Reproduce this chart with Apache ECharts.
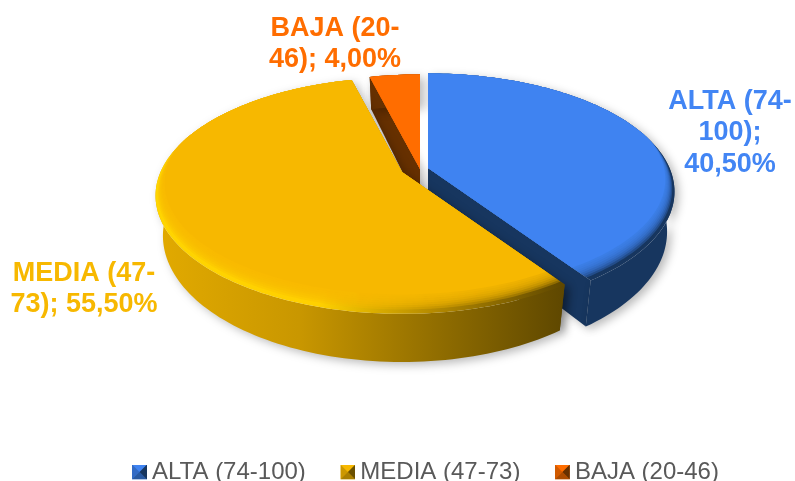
<!DOCTYPE html>
<html>
<head>
<meta charset="utf-8" />
<style>
  html, body { margin: 0; padding: 0; background: #fff; }
  #chart { width: 795px; height: 481px; }
</style>
</head>
<body>
<div id="chart"></div>
<script src="https://cdn.jsdelivr.net/npm/echarts@6/dist/echarts.min.js"></script>
<script>
const categories = ["ALTA (74-100)", "MEDIA (47-73)", "BAJA (20-46)"];
const percents = [40.5, 55.5, 4.0];
// donde el original corta cada etiqueta
const labelBreaks = [["ALTA (74-", "100);", "40,50%"], ["MEDIA (47-", "73); 55,50%"], ["BAJA (20-", "46); 4,00%"]];

const faceColors = ["#3f83f1", "#f7b800", "#ff6d00"];
const wallColors = ["#17365f", "#6b5000", "#663000"];
const labelColors = ["#4285f4", "#f7b800", "#ff6d00"];
const apexes = [[428, 168], [402, 172], [420, 169]];
const labelPos = [[730, 133], [84, 289], [335, 44]];
const drawOrder = [2, 3, 1];

const RX = 241.5;
const RY = 113.5;
const PERSP = 0.2; // la parte delantera se ve más grande
const DEPTH = 38.5;
const BOTTOM_SCALE = 0.97; // la base queda algo más estrecha

const sideGradient = (i) => {
  if (i === 1) {
    return new echarts.graphic.LinearGradient(0, 0, 1, 0, [
      { offset: 0, color: "#e2aa00" },
      { offset: 0.35, color: "#c99700" },
      { offset: 0.7, color: "#8f6c00" },
      { offset: 1, color: "#5e4700" },
    ]);
  }
  return wallColors[i];
};

const bevelGradient = (i) => {
  if (i === 1) {
    return new echarts.graphic.LinearGradient(0, 0, 1, 0, [
      { offset: 0, color: "#ffd500" },
      { offset: 0.4, color: "#ffd000" },
      { offset: 0.68, color: "#b58a00" },
      { offset: 1, color: "#5e4700" },
    ]);
  }
  return wallColors[i];
};

/** punto del disco en perspectiva, ang en radianes desde arriba y en sentido horario */
const project = (apex, ang, k, drop) => {
  const u = Math.sin(ang) * k;
  const v = Math.cos(ang) * k;
  const s = 1 / (1 + PERSP * v);
  const sx = drop ? BOTTOM_SCALE : 1;
  return [apex[0] + RX * u * s * sx, apex[1] - RY * v * s + (drop ? DEPTH * s : 0)];
};

const rimPoints = (apex, a0, a1, drop, shrink) => {
  const pts = [];
  const steps = Math.max(6, Math.ceil((a1 - a0) * 40));
  for (let j = 0; j <= steps; j++) {
    const a = a0 + ((a1 - a0) * j) / steps;
    // el bisel solo se nota en el borde delantero
    const k = shrink ? 1 - shrink * Math.max(0, 0.25 - Math.cos(a)) : 1;
    pts.push(project(apex, a, k, drop));
  }
  return pts;
};

const renderSlice = (i) => (params, api) => {
  const start = (api.value(1) / 100) * Math.PI * 2;
  const end = start + (api.value(0) / 100) * Math.PI * 2;
  const apex = apexes[i];
  const apexLow = [apex[0], apex[1] + DEPTH];
  const top = rimPoints(apex, start, end, false, 0);
  const bottom = rimPoints(apex, start, end, true, 0);
  const shadow = { shadowBlur: 10, shadowColor: "rgba(0,0,0,0.28)", shadowOffsetX: 4, shadowOffsetY: 3 };
  const children = [];

  // paredes de corte
  [[top[0], bottom[0]], [top[top.length - 1], bottom[bottom.length - 1]]].forEach((e) => {
    children.push({
      type: "polygon",
      shape: { points: [apex, e[0], e[1], apexLow] },
      style: { fill: wallColors[i], ...shadow },
    });
  });
  // pared exterior
  children.push({
    type: "polygon",
    shape: { points: top.concat(bottom.slice().reverse()) },
    style: { fill: sideGradient(i), ...shadow },
  });
  // bisel y cara superior, por capas para que el borde se difumine
  children.push({
    type: "polygon",
    shape: { points: [apex].concat(top) },
    style: { fill: bevelGradient(i) },
  });
  [0.02, 0.03, 0.04, 0.05, 0.06, 0.07, 0.08].forEach((shrink) => {
    children.push({
      type: "polygon",
      shape: { points: [apex].concat(rimPoints(apex, start, end, false, shrink)) },
      style: { fill: faceColors[i], opacity: 0.3 },
    });
  });
  children.push({
    type: "polygon",
    shape: { points: [apex].concat(rimPoints(apex, start, end, false, 0.09)) },
    style: { fill: faceColors[i] },
  });
  children.push({
    type: "text",
    x: labelPos[i][0],
    y: labelPos[i][1],
    style: {
      text: labelBreaks[i].join("\n"),
      fill: labelColors[i],
      font: 'bold 27px "Liberation Sans", Arial, sans-serif',
      lineHeight: 31.5,
      align: "center",
      verticalAlign: "middle",
    },
  });
  return { type: "group", children };
};

/** icono de leyenda: cuadrado con bisel como pirámide */
const legendIcon = (i) => {
  const svg =
    '<svg xmlns="http://www.w3.org/2000/svg" width="15" height="15">' +
    `<rect width="15" height="15" fill="${faceColors[i]}"/>` +
    `<path d="M0 15L7.5 7.5L15 15Z" fill="${wallColors[i]}" opacity="0.55"/>` +
    `<path d="M15 0L7.5 7.5L15 15Z" fill="${wallColors[i]}"/>` +
    `<path d="M0 0L7.5 7.5L0 15Z" fill="${wallColors[i]}" opacity="0.3"/>` +
    "</svg>";
  return "image://data:image/svg+xml;base64," + btoa(svg);
};

const chart = echarts.init(document.getElementById("chart"));
let acc = 0;
const series = categories.map((name, i) => {
  const row = [percents[i], acc];
  acc += percents[i];
  return {
    name,
    type: "custom",
    coordinateSystem: "none",
    z: drawOrder[i],
    animation: false,
    silent: true,
    itemStyle: { color: faceColors[i] },
    renderItem: renderSlice(i),
    data: [row],
  };
});

chart.setOption({
  backgroundColor: "#fff",
  animation: false,
  legend: {
    left: 127,
    top: 455,
    itemWidth: 15,
    itemHeight: 15,
    itemGap: 34.5,
    selectedMode: false,
    data: categories.map((name, i) => ({ name, icon: legendIcon(i) })),
    textStyle: { color: "#595959", fontSize: 24, fontFamily: '"Liberation Sans", Arial, sans-serif' },
  },
  series,
});
</script>
</body>
</html>
